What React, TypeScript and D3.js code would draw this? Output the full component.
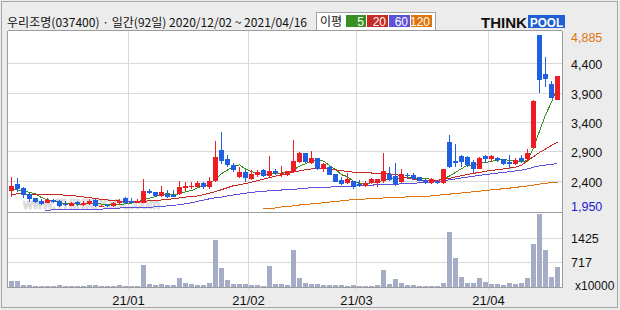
import React from "react";
import * as d3 from "d3";

const W = 620;
const H = 310;

// OHLC per trading day, 2020/12/02 .. 2021/04/16 (92 days)
const opens = [2217,2342,2268,2171,2103,2046,2018,2075,2052,1995,1972,2035,1978,2001,2069,1958,1990,1960,2012,2098,2046,2024,2018,2223,2200,2137,2171,2149,2171,2274,2285,2297,2353,2297,2394,2923,2769,2667,2468,2547,2428,2496,2581,2485,2564,2530,2496,2541,2723,2877,2706,2792,2604,2638,2513,2405,2354,2394,2343,2308,2360,2365,2399,2519,2480,2376,2500,2501,2456,2410,2353,2382,2353,3059,2734,2820,2808,2717,2604,2820,2774,2791,2763,2723,2683,2786,2763,2962,4885,4224,4042,3775];
const highs = [2456,2444,2297,2194,2103,2080,2098,2092,2069,2058,2041,2058,2052,2092,2080,1990,2001,2029,2080,2115,2098,2080,2427,2251,2211,2314,2240,2240,2393,2382,2376,2388,2376,2462,3076,3230,2837,2695,2627,2581,2581,2581,2604,2820,2598,2650,2564,3093,2894,2877,2911,2792,2695,2650,2513,2468,2525,2394,2411,2388,2445,2422,2866,2627,2700,2598,2530,2536,2470,2420,2440,2400,2604,3178,3025,2842,2820,2752,2808,2831,2831,2808,2763,2837,2786,2831,2933,3770,4885,4514,4099,4185];
const lows = [2126,2211,2098,2029,2024,1984,2012,2012,1950,1960,1960,1970,1967,1984,1955,1952,1955,1955,1990,2007,2012,2012,2012,2171,2126,2115,2098,2115,2154,2228,2263,2285,2263,2263,2382,2684,2638,2547,2451,2382,2411,2468,2468,2468,2496,2468,2485,2524,2695,2706,2678,2581,2547,2490,2377,2325,2337,2263,2285,2291,2343,2285,2365,2394,2310,2353,2440,2410,2390,2350,2340,2340,2336,2609,2638,2638,2638,2535,2604,2695,2723,2723,2660,2609,2666,2706,2723,2950,3900,4003,3804,3775];
const closes = [2314,2257,2160,2092,2035,2007,2075,2041,1960,1978,2018,1995,2024,2052,1960,1972,1960,2012,2058,2024,2024,2046,2223,2194,2143,2206,2126,2126,2285,2308,2308,2365,2285,2399,2803,2741,2672,2581,2547,2445,2519,2547,2479,2564,2524,2536,2564,2735,2877,2723,2792,2598,2678,2502,2382,2348,2428,2291,2314,2365,2422,2422,2564,2411,2340,2513,2480,2433,2399,2370,2422,2353,2604,2638,2695,2723,2666,2604,2786,2774,2820,2751,2683,2683,2752,2729,2865,3758,4116,4139,3815,4185];
// volume, x10000
const volumes = [184,184,58,58,29,29,29,29,58,29,29,29,29,58,58,29,29,29,58,29,29,29,638,87,58,87,58,58,261,116,87,58,58,116,1363,551,203,87,87,87,58,58,29,609,87,87,58,1073,261,116,87,87,58,58,58,58,29,58,29,29,29,58,493,87,232,116,58,58,29,29,29,29,116,1595,841,290,116,116,261,145,87,87,58,116,87,116,261,1247,2117,1073,290,580];

// moving averages
const ma5Head = [2250, 2240, 2225, 2200];
const ma20 = [2171,2172,2172,2171,2170,2168,2165,2162,2158,2152,2145,2135,2122,2110,2095,2080,2070,2060,2052,2045,2040,2038,2048,2055,2062,2070,2080,2090,2105,2120,2130,2138,2160,2185,2215,2245,2280,2314,2330,2350,2375,2400,2425,2450,2475,2500,2520,2545,2565,2585,2600,2610,2605,2595,2585,2570,2555,2545,2538,2534,2530,2526,2522,2515,2505,2480,2440,2425,2410,2400,2402,2406,2420,2440,2465,2485,2505,2525,2540,2560,2575,2585,2600,2615,2632,2660,2740,2808,2880,2940,3000,3060];
const ma60 = [1840,1845,1850,1855,1860,1866,1890,1905,1906,1907,1908,1909,1910,1911,1912,1914,1920,1926,1932,1938,1942,1944,1945,1947,1952,1962,1968,1978,1990,2005,2022,2045,2068,2090,2108,2120,2140,2155,2170,2185,2198,2210,2218,2226,2233,2240,2246,2253,2260,2270,2280,2286,2288,2290,2295,2298,2302,2308,2314,2320,2324,2328,2331,2335,2340,2344,2350,2356,2362,2368,2375,2385,2400,2415,2430,2445,2460,2475,2490,2505,2515,2528,2540,2552,2565,2578,2600,2630,2650,2665,2680,2690];
const ma120 = [null,null,null,null,null,null,null,null,null,null,null,null,null,null,null,null,null,null,null,null,null,null,null,null,null,null,null,null,null,null,null,null,null,null,null,null,null,null,null,null,null,null,1916,1925,1933,1950,1960,1970,1984,1994,2004,2013,2023,2035,2045,2055,2068,2075,2082,2087,2092,2098,2104,2110,2115,2118,2122,2125,2126,2130,2140,2150,2160,2170,2180,2190,2200,2210,2220,2235,2242,2252,2262,2272,2285,2297,2310,2325,2340,2355,2368,2376];

const priceTicks = [4400, 3900, 3400, 2900, 2400];
const priceMax = 4885;
const priceMin = 1950;
const volTicks = [717, 1425];
const volMax = 2137;
const monthLabels = ["21/01", "21/02", "21/03", "21/04"];
const monthStartIdx = [20, 40, 58, 80];
const maPeriods = ["5", "20", "60", "120"];
const maColors = ["#3a8f22", "#c42b24", "#5d52d8", "#e0730e"];

const UP = "#ee1c24";
const DOWN = "#1f5fe2";
const VOL = "#a4adc5";
const GRID = "#d9d9d9";
const BORDER = "#9c9c9c";

const L = 8, R = 562, TOP = 31, SEP = 212, BOT = 287;

export default function App() {
  const n = closes.length;
  const x = d3.scaleBand<number>().domain(d3.range(n)).range([L, L + 6 * n]).padding(0);
  const y = d3.scaleLinear().domain([priceMin, priceMax]).range([207, 35]);
  const yv = d3.scaleLinear().domain([0, volMax]).range([BOT, 213]);

  const ma5 = closes.map((_, i) =>
    i < 4 ? ma5Head[i] : (d3.mean(closes.slice(i - 4, i + 1)) as number)
  );

  const line = d3
    .line<number | null>()
    .defined((v) => v != null)
    .x((_, i) => (x(i) as number) + 3.5)
    .y((v) => y(v as number));

  const mas = [ma5, ma20, ma60, ma120];
  const f = "'Liberation Sans', Arial, sans-serif";

  return (
    <svg width={W} height={H} style={{ position: "absolute", left: 0, top: 0 }} fontFamily={f}>
      <defs>
        <clipPath id="pc">
          <rect x={L} y={TOP} width={R - L} height={SEP - TOP - 1} />
        </clipPath>
      </defs>
      <rect x={0} y={0} width={W} height={H} fill="#ececec" />
      <rect x={1.5} y={1.5} width={616} height={306} fill="none" stroke="#a6a6a6" />

      {/* title */}
      <text x={7} y={27} fontSize={12} fontFamily="'Noto Sans CJK KR', sans-serif" fill="#111" textLength={300} lengthAdjust="spacingAndGlyphs">
        우리조명(037400) · 일간(92일) 2020/12/02 ~ 2021/04/16
      </text>

      {/* legend */}
      <rect x={316.5} y={12.5} width={119} height={18} fill="#fff" stroke="#a0a0a0" />
      <text x={320} y={26} fontSize={12} fontFamily="'Noto Sans CJK KR', sans-serif" fill="#111">이평</text>
      {maPeriods.map((p, k) => {
        const bx = [346, 367, 389, 411][k];
        const bw = [20, 21, 21, 21][k];
        return (
          <g key={p}>
            <rect x={bx} y={15} width={bw} height={12} fill={maColors[k]} />
            <text x={bx + bw - 2} y={25.5} fontSize={12} fill="#fff" textAnchor="end">{p}</text>
          </g>
        );
      })}

      {/* logo */}
      <text x={481} y={28} fontSize={14} fontWeight={700} fill="#111" textLength={46} lengthAdjust="spacingAndGlyphs">THINK</text>
      <rect x={528} y={15} width={37} height={13} fill="#1f5fd6" />
      <text x={530} y={27} fontSize={13} fontWeight={700} fill="#fff" textLength={33} lengthAdjust="spacingAndGlyphs">POOL</text>

      {/* plot background */}
      <rect x={L} y={TOP} width={R - L} height={BOT - TOP} fill="#fff" />

      {/* grid */}
      {priceTicks.map((t) => (
        <line key={t} x1={L} x2={R} y1={Math.round(y(t)) + 0.5} y2={Math.round(y(t)) + 0.5} stroke={GRID} />
      ))}
      {volTicks.map((t) => (
        <line key={t} x1={L} x2={R} y1={Math.round(yv(t)) + 0.5} y2={Math.round(yv(t)) + 0.5} stroke={GRID} />
      ))}
      {monthStartIdx.map((m) => (
        <line key={m} x1={(x(m) as number) + 0.5} x2={(x(m) as number) + 0.5} y1={TOP} y2={BOT + 3} stroke={GRID} />
      ))}

      {/* watermark */}
      <text x={23} y={209} fontSize={15} fontWeight={700} fill="#e4e4e4" stroke="#cfcfcf" strokeWidth={0.6} textLength={137} lengthAdjust="spacingAndGlyphs">www.THINKPOOL.com</text>

      {/* volume */}
      {volumes.map((v, i) => {
        const top = Math.round(yv(v));
        return <rect key={i} x={(x(i) as number) + 1} y={top} width={5} height={Math.max(1, BOT - top)} fill={VOL} shapeRendering="crispEdges" />;
      })}

      {/* moving averages */}
      <g clipPath="url(#pc)">
        {mas.map((arr, k) => (
          <path key={k} d={line(arr as (number | null)[]) as string} fill="none" stroke={maColors[k]} strokeWidth={1} shapeRendering="crispEdges" />
        ))}
      </g>

      {/* candles */}
      {closes.map((c, i) => {
        const o = opens[i];
        const col = c >= o ? UP : DOWN;
        const bx = x(i) as number;
        const t = Math.round(y(Math.max(o, c)));
        const b = Math.round(y(Math.min(o, c)));
        const ht = Math.round(y(highs[i]));
        const lw = Math.round(y(lows[i]));
        return (
          <g key={i} shapeRendering="crispEdges">
            <rect x={bx + 3} y={ht} width={1} height={Math.max(1, lw - ht)} fill={col} />
            <rect x={bx + 1} y={t} width={5} height={Math.max(1, b - t)} fill={col} />
          </g>
        );
      })}

      {/* borders */}
      <g stroke={BORDER} shapeRendering="crispEdges">
        <line x1={L - 0.5} x2={L - 0.5} y1={TOP} y2={BOT + 1} />
        <line x1={L} x2={R} y1={TOP - 0.5} y2={TOP - 0.5} />
        <line x1={R + 0.5} x2={R + 0.5} y1={TOP} y2={BOT + 1} />
        <line x1={L} x2={R} y1={BOT + 0.5} y2={BOT + 0.5} />
        <line x1={L} x2={R} y1={SEP + 0.5} y2={SEP + 0.5} />
      </g>

      {/* y labels */}
      <text x={571} y={y(priceMax) + 6.5} fontSize={12.5} fill="#e0730e">{d3.format(",")(priceMax)}</text>
      {priceTicks.map((t) => (
        <text key={t} x={571} y={y(t) + 6} fontSize={12.5} fill="#111">{d3.format(",")(t)}</text>
      ))}
      <text x={571} y={y(priceMin) + 4} fontSize={12.5} fill="#1a1ad0">{d3.format(",")(priceMin)}</text>
      {volTicks.map((t) => (
        <text key={t} x={571} y={yv(t) + 5} fontSize={12.5} fill="#111">{t}</text>
      ))}
      <text x={575} y={290} fontSize={12} fill="#111">x10000</text>

      {/* x labels */}
      {monthStartIdx.map((m, k) => (
        <text key={m} x={(x(m) as number) + 0.5} y={305} fontSize={13} textAnchor="middle" fill="#111">{monthLabels[k]}</text>
      ))}
    </svg>
  );
}
